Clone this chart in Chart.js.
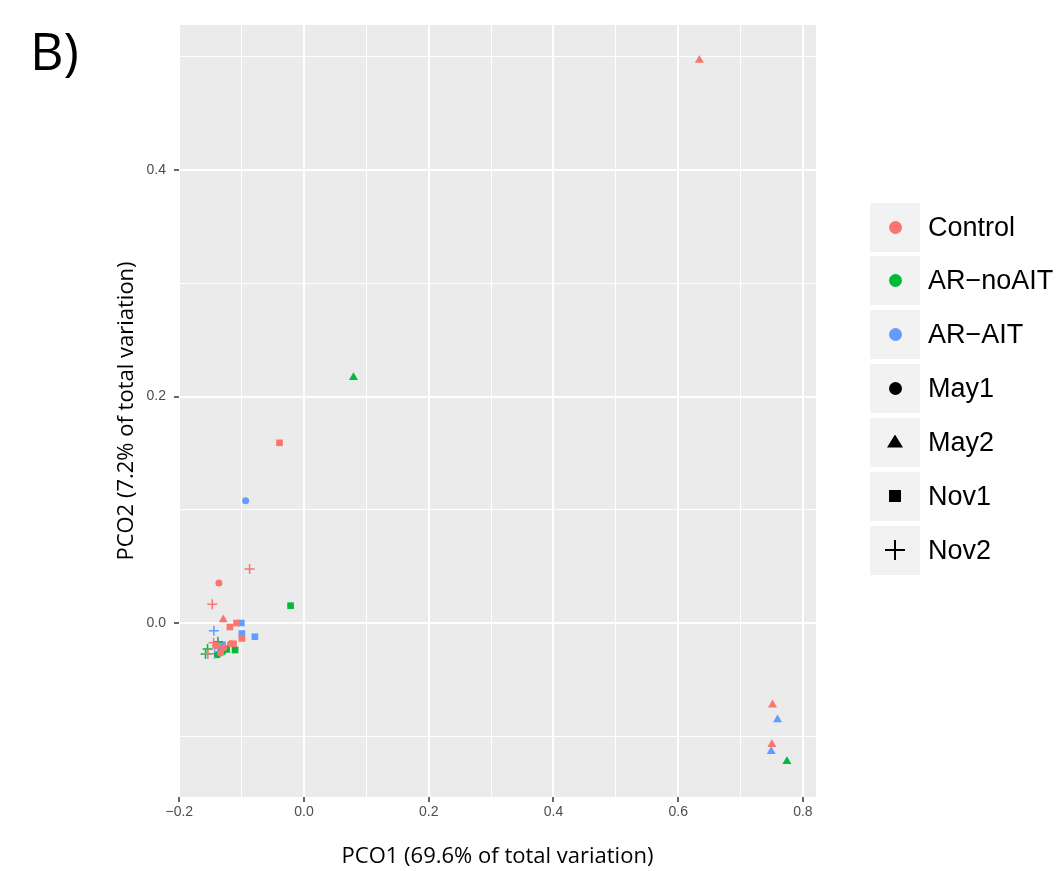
<!DOCTYPE html>
<html>
<head>
<meta charset="utf-8">
<script src="https://cdn.jsdelivr.net/npm/chart.js@4.4.1/dist/chart.umd.min.js"></script>
<style>
  html, body { margin: 0; padding: 0; background: #fff; }
  #wrap { position: relative; width: 1064px; height: 871px; overflow: hidden; }
  #plot { position: absolute; left: 0; top: 0; }
  #panelTag { position: absolute; left: 30px; top: 14px; font: 52px "Open Sans", sans-serif; color: #000; }
  .key { position: absolute; left: 870px; width: 50px; height: 49px; background: #F2F2F2; }
  .keyText { position: absolute; left: 928px; font: 27px "Liberation Sans", Arial, sans-serif; color: #000; line-height: 49px; }
  .mk { position: absolute; }
</style>
</head>
<body>
<div id="wrap">
  <canvas id="plot" width="1064" height="871"></canvas>
  <div id="panelTag">B)</div>
  <div id="legend"></div>
</div>
<script>
// groups (colour) and sampling times (shape)
const groups = ['Control', 'AR\u2212noAIT', 'AR\u2212AIT'];
const groupColors = ['#F8766D', '#00BA38', '#619CFF'];
const times = ['May1', 'May2', 'Nov1', 'Nov2'];
const timeStyles = ['circle', 'triangle', 'rect', 'cross'];
const timeRadius = [3.5, 5.2, 4.7, 5];

// Control samples
const controlX = [-0.1365, -0.1418, -0.1290, -0.1178, -0.1338,
                  0.634, -0.1295, 0.7513, 0.7503,
                  -0.0393, -0.1082, -0.1189, -0.0997, -0.1130,
                  -0.0873, -0.1471, -0.1542, -0.1450];
const controlY = [0.0353, -0.0200, -0.0218, -0.0183, -0.0265,
                  0.497, 0.003, -0.0722, -0.1072,
                  0.1591, 0.0000, -0.0035, -0.0136, -0.0183,
                  0.0477, 0.0165, -0.0271, -0.0174];
const controlTime = ['May1', 'May1', 'May1', 'May1', 'May1',
                     'May2', 'May2', 'May2', 'May2',
                     'Nov1', 'Nov1', 'Nov1', 'Nov1', 'Nov1',
                     'Nov2', 'Nov2', 'Nov2', 'Nov2'];

// AR-noAIT samples
const noAitX = [-0.1306, -0.1386,
                0.0793, 0.7744, -0.1250,
                -0.0216, -0.1106, -0.1242,
                -0.1547, -0.1579, -0.1381];
const noAitY = [-0.0253, -0.0280,
                0.2168, -0.1222, -0.0240,
                0.0153, -0.0238, -0.0227,
                -0.0230, -0.0274, -0.0165];
const noAitTime = ['May1', 'May1',
                   'May2', 'May2', 'May2',
                   'Nov1', 'Nov1', 'Nov1',
                   'Nov2', 'Nov2', 'Nov2'];

// AR-AIT samples
const aitX = [-0.0937, -0.1338,
              0.7593, 0.7492, -0.1330,
              -0.1006, -0.0997, -0.0788, -0.1306,
              -0.1446, -0.1434];
const aitY = [0.1079, -0.0244,
              -0.0854, -0.1134, -0.0225,
              0.0000, -0.0093, -0.0121, -0.0192,
              -0.0068, -0.0271];
const aitTime = ['May1', 'May1',
                 'May2', 'May2', 'May2',
                 'Nov1', 'Nov1', 'Nov1', 'Nov1',
                 'Nov2', 'Nov2'];

const xTicks = [-0.2, -0.1, 0.0, 0.1, 0.2, 0.3, 0.4, 0.5, 0.6, 0.7, 0.8];
const yTicks = [-0.1, 0.0, 0.1, 0.2, 0.3, 0.4, 0.5];

const groupData = [
  [controlX, controlY, controlTime],
  [noAitX, noAitY, noAitTime],
  [aitX, aitY, aitTime],
];

const datasets = [];
groups.forEach((g, gi) => {
  const [xs, ys, ts] = groupData[gi];
  times.forEach((t, ti) => {
    const pts = [];
    xs.forEach((x, i) => { if (ts[i] === t) pts.push({ x: x, y: ys[i] }); });
    const isCross = timeStyles[ti] === 'cross';
    datasets.push({
      label: g + ' ' + t,
      data: pts,
      pointStyle: timeStyles[ti],
      pointRadius: timeRadius[ti],
      backgroundColor: groupColors[gi],
      borderColor: groupColors[gi],
      borderWidth: isCross ? 1.5 : 0,
    });
  });
});

const isMajor = v => Math.abs(Math.round(v * 10)) % 2 === 0;
const fmt = v => (v < 0 ? '\u2212' : '') + Math.abs(v).toFixed(1);

const panelBg = {
  id: 'panelBg',
  beforeDraw(chart) {
    const { ctx, chartArea: a } = chart;
    ctx.save();
    ctx.fillStyle = '#EBEBEB';
    ctx.fillRect(a.left, a.top, a.right - a.left, a.bottom - a.top);
    ctx.restore();
  },
};

const tickFont = { family: '"Liberation Sans", Arial, sans-serif', size: 14 };
const titleFont = { family: '"Open Sans", sans-serif', size: 22 };

new Chart(document.getElementById('plot'), {
  type: 'scatter',
  data: { datasets: datasets },
  options: {
    responsive: false,
    animation: false,
    events: [],
    layout: { padding: { left: 0, top: 25, right: 248, bottom: 0 } },
    plugins: { legend: { display: false }, tooltip: { enabled: false } },
    scales: {
      x: {
        type: 'linear',
        min: -0.2005,
        max: 0.821,
        afterBuildTicks: s => { s.ticks = xTicks.map(v => ({ value: v })); },
        afterFit: s => { s.height = 74; },
        ticks: {
          autoSkip: false, maxRotation: 0, padding: 2,
          color: '#4D4D4D', font: tickFont,
          callback: v => isMajor(v) ? fmt(v) : '',
        },
        grid: {
          color: '#FFFFFF',
          lineWidth: c => isMajor(c.tick.value) ? 2 : 1,
          tickColor: c => isMajor(c.tick.value) ? '#333333' : 'rgba(0,0,0,0)',
          tickLength: 5,
          tickWidth: 1.5,
        },
        border: { display: false },
        title: {
          display: true, text: 'PCO1 (69.6% of total variation)',
          color: '#000', font: titleFont, padding: { top: 0, bottom: 0.8 },
        },
      },
      y: {
        type: 'linear',
        min: -0.1536,
        max: 0.528,
        afterBuildTicks: s => { s.ticks = yTicks.map(v => ({ value: v })); },
        afterFit: s => { s.width = 179; },
        ticks: {
          autoSkip: false, padding: 8,
          color: '#4D4D4D', font: tickFont,
          callback: v => isMajor(v) ? fmt(v) : '',
        },
        grid: {
          color: '#FFFFFF',
          lineWidth: c => isMajor(c.tick.value) ? 2 : 1,
          tickColor: c => isMajor(c.tick.value) ? '#333333' : 'rgba(0,0,0,0)',
          tickLength: 5,
          tickWidth: 1.5,
        },
        border: { display: false },
        title: {
          display: true, text: 'PCO2 (7.2% of total variation)',
          color: '#000', font: titleFont, padding: { top: 113.8, bottom: 0 },
        },
      },
    },
  },
  plugins: [panelBg],
});

// html legend: colour keys then shape keys
const legend = document.getElementById('legend');
function addKey(top, label, shape, color) {
  const box = document.createElement('div');
  box.className = 'key';
  box.style.top = top + 'px';
  const m = document.createElement('div');
  m.className = 'mk';
  if (shape === 'circle') {
    Object.assign(m.style, { width: '13px', height: '13px', left: '18.5px', top: '18px', borderRadius: '50%', background: color });
  } else if (shape === 'triangle') {
    Object.assign(m.style, { width: '16px', height: '13px', left: '17px', top: '17px', background: color, clipPath: 'polygon(50% 0, 100% 100%, 0 100%)' });
  } else if (shape === 'rect') {
    Object.assign(m.style, { width: '12px', height: '12px', left: '19px', top: '18.5px', background: color });
  } else {
    const h = document.createElement('div');
    Object.assign(h.style, { position: 'absolute', left: '15px', top: '23.5px', width: '20px', height: '2px', background: color });
    const v = document.createElement('div');
    Object.assign(v.style, { position: 'absolute', left: '24px', top: '14.5px', width: '2px', height: '20px', background: color });
    box.appendChild(h);
    box.appendChild(v);
  }
  if (shape !== 'cross') box.appendChild(m);
  legend.appendChild(box);
  const t = document.createElement('div');
  t.className = 'keyText';
  t.style.top = top + 'px';
  t.textContent = label;
  legend.appendChild(t);
}
groups.forEach((g, i) => addKey(203 + i * 53.3, g, 'circle', groupColors[i]));
times.forEach((t, i) => addKey(363.5 + i * 54, t, timeStyles[i], '#000'));
</script>
</body>
</html>
